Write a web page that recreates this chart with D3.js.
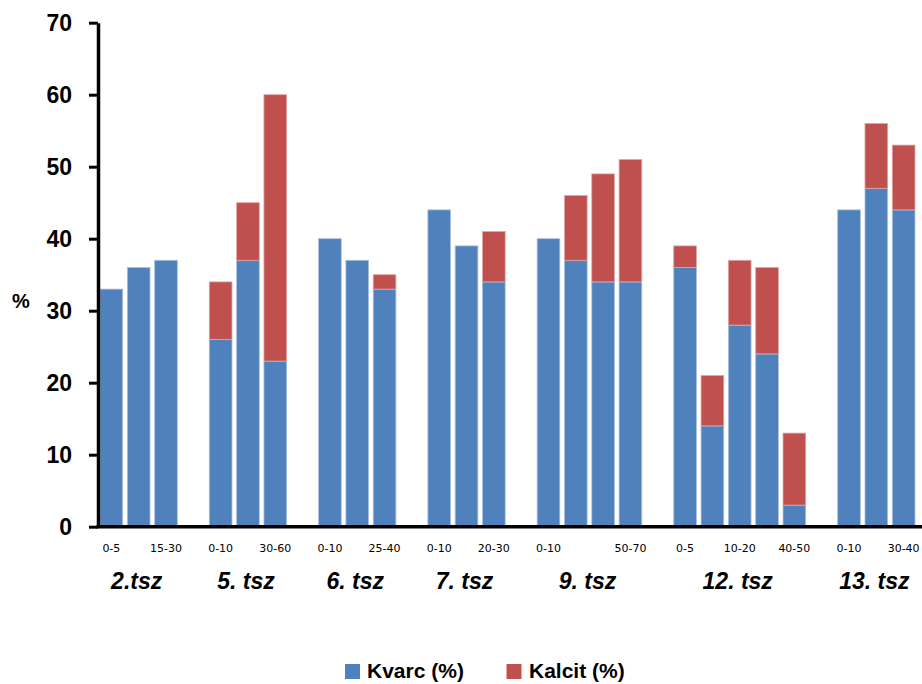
<!DOCTYPE html>
<html>
<head>
<meta charset="utf-8">
<script src="https://cdn.jsdelivr.net/npm/d3@7"></script>
<style>
  html, body { margin: 0; padding: 0; background: #fff; }
  svg { display: block; }
  text { font-family: "Liberation Sans", Arial, sans-serif; fill: #000; }
</style>
</head>
<body>
<svg id="chart" width="922" height="684"></svg>
<script>
// ---- data ----
const groups = ["2.tsz", "5. tsz", "6. tsz", "7. tsz", "9. tsz", "12. tsz", "13. tsz"];
const depthLabels = [
  ["0-5", "", "15-30"],
  ["0-10", "", "30-60"],
  ["0-10", "", "25-40"],
  ["0-10", "", "20-30"],
  ["0-10", "", "", "50-70"],
  ["0-5", "", "10-20", "", "40-50"],
  ["0-10", "", "30-40"]
];
const kvarc = [
  [33, 36, 37],
  [26, 37, 23],
  [40, 37, 33],
  [44, 39, 34],
  [40, 37, 34, 34],
  [36, 14, 28, 24, 3],
  [44, 47, 44]
];
const kalcit = [
  [0, 0, 0],
  [8, 8, 37],
  [0, 0, 2],
  [0, 0, 7],
  [0, 9, 15, 17],
  [3, 7, 9, 12, 10],
  [0, 9, 9]
];
const seriesNames = ["Kvarc (%)", "Kalcit (%)"];
const yTicks = [0, 10, 20, 30, 40, 50, 60, 70];

// ---- build slots ----
const slots = [];
const rows = [];
groups.forEach((g, gi) => {
  kvarc[gi].forEach((v, i) => {
    const id = gi + "-" + i;
    slots.push(id);
    rows.push({ id, group: g, label: depthLabels[gi][i], kvarc: v, kalcit: kalcit[gi][i] });
  });
  if (gi < groups.length - 1) slots.push("gap-" + gi);
});

const colors = ["#4F81BD", "#C0504D"];
const strokes = ["#A9C0DE", "#DFA6A5"];

const svg = d3.select("#chart");
const axisX = 98, baseY = 526.7, topY = 22.7;

const x = d3.scaleBand().domain(slots).range([97.7, 917.3]).paddingInner(0.17).paddingOuter(0.085);
const y = d3.scaleLinear().domain([0, 70]).range([baseY, topY]);

const stack = d3.stack().keys(["kvarc", "kalcit"]);
const stacked = stack(rows);

svg.append("g").selectAll("g").data(stacked).join("g")
  .attr("fill", (d, i) => colors[i])
  .attr("stroke", (d, i) => strokes[i])
  .attr("stroke-width", 0.8)
  .selectAll("rect").data(d => d.filter(p => p[1] - p[0] > 0)).join("rect")
  .attr("x", d => x(d.data.id))
  .attr("width", x.bandwidth())
  .attr("y", d => y(d[1]))
  .attr("height", d => y(d[0]) - y(d[1]));

// y axis
const yAxis = d3.axisLeft(y).tickValues(yTicks).tickSize(9).tickPadding(17).tickSizeOuter(0);
const yg = svg.append("g").attr("transform", `translate(${axisX},0)`).call(yAxis);
yg.select(".domain").attr("stroke", "#000").attr("stroke-width", 3.5);
yg.selectAll(".tick line").attr("stroke", "#000").attr("stroke-width", 3);
yg.selectAll(".tick text")
  .style("font-family", "'Liberation Sans', Arial, sans-serif")
  .style("font-size", "23px").style("font-weight", "bold").attr("fill", "#000");

// x axis line
svg.append("line").attr("x1", axisX - 1.5).attr("x2", 922).attr("y1", baseY).attr("y2", baseY)
  .attr("stroke", "#000").attr("stroke-width", 3.5);

// depth labels
svg.append("g").selectAll("text").data(rows.filter(r => r.label)).join("text")
  .attr("x", d => x(d.id) + x.bandwidth() / 2)
  .attr("y", 552)
  .attr("text-anchor", "middle")
  .style("font-family", "'DejaVu Sans', sans-serif")
  .style("font-size", "11px")
  .attr("fill", "#111")
  .text(d => d.label);

// group labels
groups.forEach((g, gi) => {
  const first = x(gi + "-0");
  const last = x(gi + "-" + (kvarc[gi].length - 1)) + x.bandwidth();
  svg.append("text")
    .attr("x", (first + last) / 2 - 2)
    .attr("y", 589)
    .attr("text-anchor", "middle")
    .style("font-size", "23px").style("font-weight", "bold").style("font-style", "italic")
    .text(g);
});

// % label
svg.append("text").attr("x", 21).attr("y", 308).attr("text-anchor", "middle")
  .style("font-size", "20px").style("font-weight", "bold").text("%");

// legend
const legendItems = [{ x: 345, tx: 367 }, { x: 506.5, tx: 529 }];
legendItems.forEach((l, i) => {
  svg.append("rect").attr("x", l.x).attr("y", 664).attr("width", 15).attr("height", 15).attr("fill", colors[i]);
  svg.append("text").attr("x", l.tx).attr("y", 678)
    .style("font-size", "21px").style("font-weight", "bold").text(seriesNames[i]);
});
</script>
</body>
</html>
